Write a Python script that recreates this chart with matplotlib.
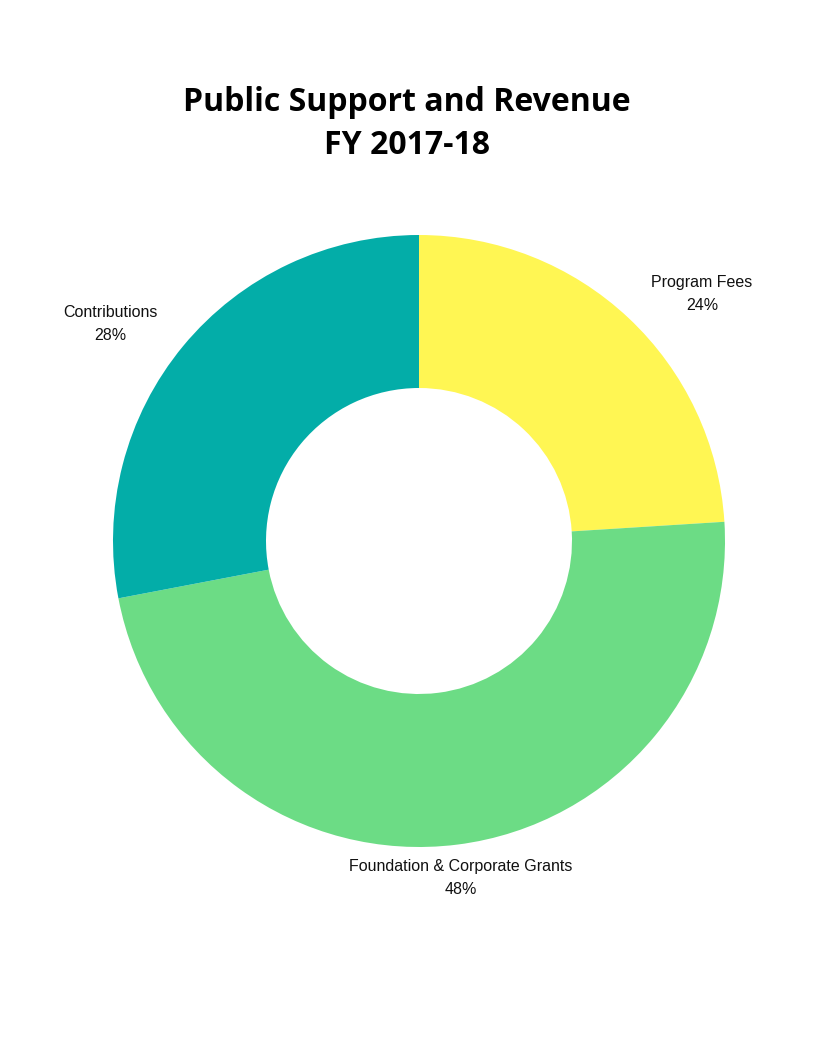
import matplotlib
matplotlib.use("Agg")
import matplotlib.pyplot as plt

categories = ["Program Fees", "Foundation & Corporate Grants", "Contributions"]
values = [24, 48, 28]
colors = ["#FFF653", "#6CDC85", "#03ADA8"]

W, H = 816, 1056
fig = plt.figure(figsize=(W / 100, H / 100), dpi=100)

cx, cy, r = 419, 541, 306
ax = fig.add_axes([(cx - r) / W, (H - (cy + r)) / H, 2 * r / W, 2 * r / H])
ax.pie(values, colors=colors, startangle=90, counterclock=False, radius=1.0,
       wedgeprops=dict(width=0.5, edgecolor="none"))
ax.set_xlim(-1, 1)
ax.set_ylim(-1, 1)
ax.set_aspect("equal")
ax.axis("off")

# label positions in pixels (style only)
label_px = [(702, 294), (461, 878), (110, 324)]
for name, v, (px, py) in zip(categories, values, label_px):
    ax.text((px - cx) / r, (cy - py) / r, f"{name}\n{v}%", ha="center", va="center",
            fontsize=11.5, family="Liberation Sans", color="#111111", linespacing=1.62)

fig.text(407 / W, 1 - 124 / H, "Public Support and Revenue\nFY 2017-18", ha="center", va="center",
         fontsize=23, fontweight="bold", family="Open Sans", linespacing=1.42)

fig.savefig("out.png", dpi=100, facecolor="white")
